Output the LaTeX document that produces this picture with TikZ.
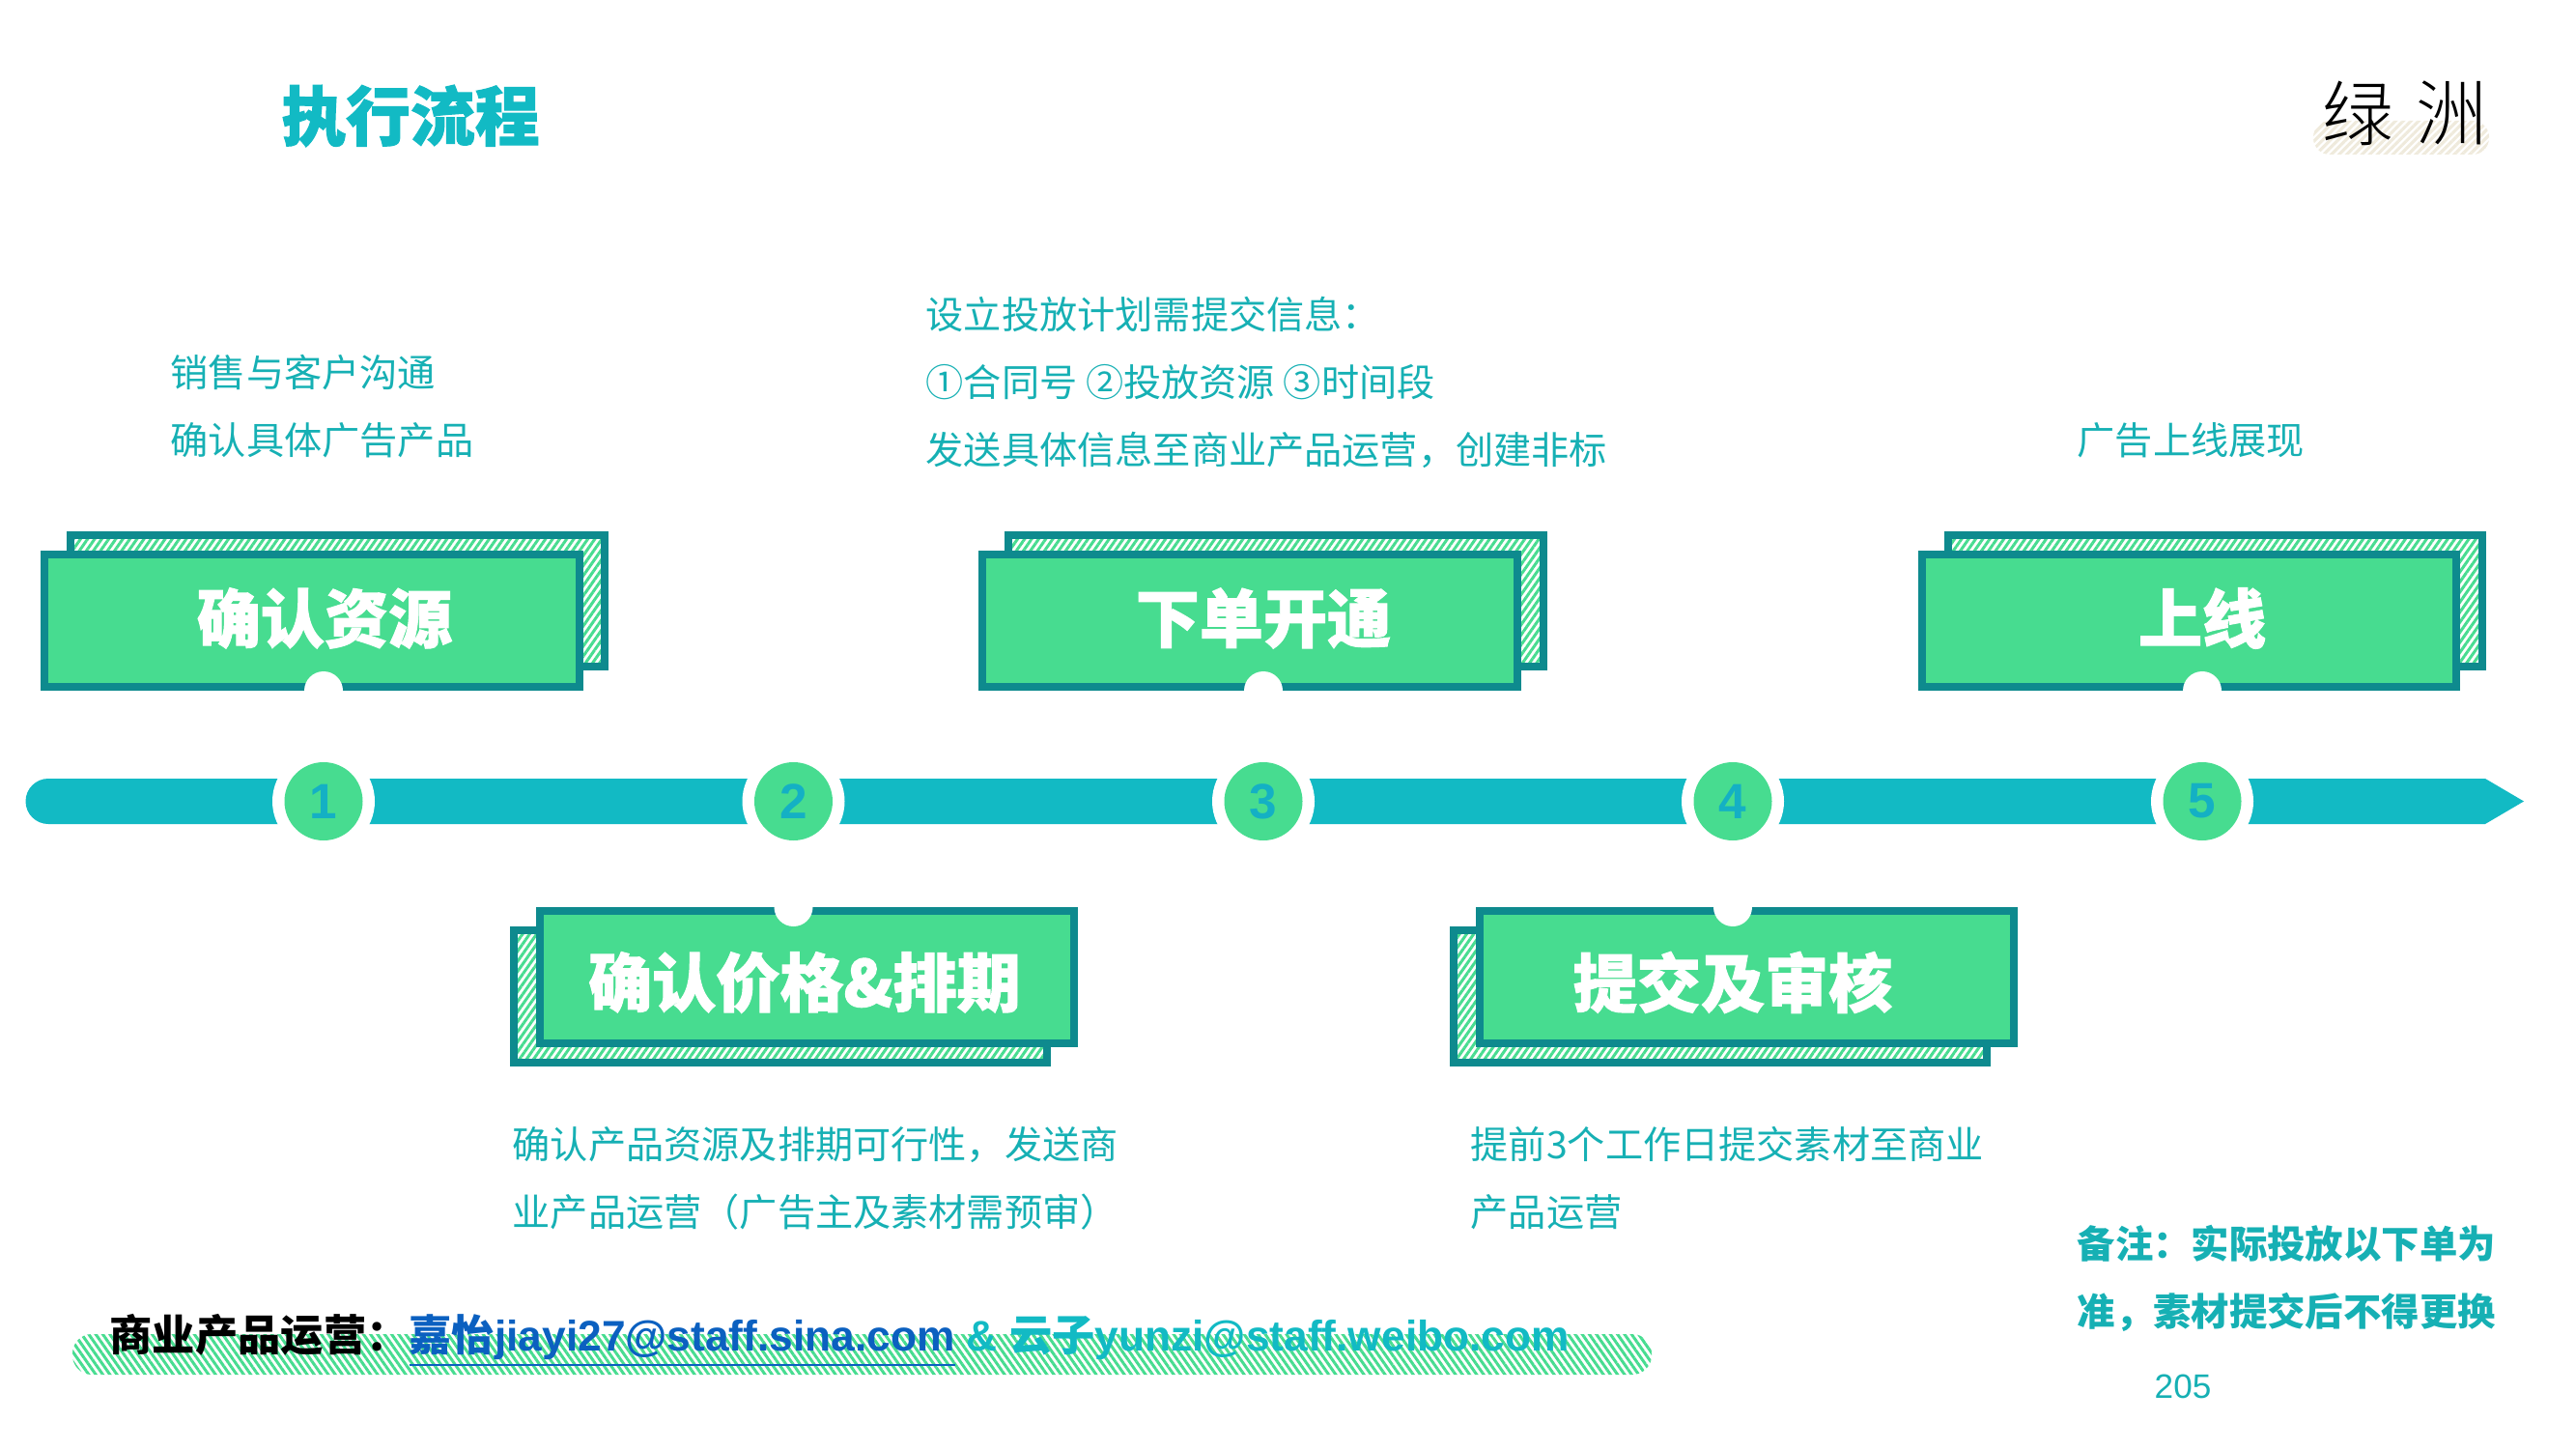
\documentclass[tikz,border=0pt]{standalone}
\usepackage{fontspec}
\usetikzlibrary{patterns.meta}
\setmainfont{Noto Sans CJK SC}
\newfontfamily\latinfont{Liberation Sans}
\newfontfamily\headfont[BoldFeatures={FakeBold=1.5}]{Noto Sans CJK SC}
\newfontfamily\logofont{Noto Sans CJK SC Light}
\definecolor{boxgreen}{HTML}{47DC90}
\definecolor{boxedge}{HTML}{0E8A8E}
\definecolor{barteal}{HTML}{12BAC4}
\definecolor{noteteal}{HTML}{16B0B4}
\definecolor{numteal}{HTML}{14B0C4}
\definecolor{linkblue}{HTML}{0B60C0}
\definecolor{logocream}{HTML}{EFEADC}
\tikzset{
  frontbox/.style={draw=boxedge,line width=0.08cm,fill=boxgreen},
  backbox/.style={draw=boxedge,line width=0.08cm,preaction={fill=white},
    pattern={Lines[angle=55,distance=1.7pt,line width=0.85pt]},pattern color=boxgreen},
  notch/.style={fill=white,draw=none,circle,minimum size=0.4cm,inner sep=0pt},
  ringdot/.style={fill=white,circle,minimum size=1.06cm,inner sep=0pt},
  numdot/.style={fill=boxgreen,circle,minimum size=0.81cm,inner sep=0pt,
    text=numteal,font=\latinfont\bfseries\fontsize{14.6}{16}\selectfont},
  boxlabel/.style={text=white,font=\headfont\bfseries\fontsize{18.8}{22}\selectfont,inner sep=0pt},
  notetext/.style={anchor=north west,align=left,inner sep=0pt,text=noteteal,
    font=\fontsize{11.15}{19.9}\selectfont},
}
\begin{document}
\begin{tikzpicture}
\useasboundingbox (0,0) rectangle (26.67,15);
%title
\node (title) [anchor=center,inner sep=0pt,text=barteal,font=\headfont\bfseries\fontsize{19}{22}\selectfont] at (4.25,13.80) {执行流程};
%logo
\fill[rounded corners=0.17cm,pattern={Lines[angle=45,distance=1.6pt,line width=0.9pt]},pattern color=logocream] (23.95,13.4) rectangle (25.77,13.75);
\node (logoa) [inner sep=0pt,font=\logofont\fontsize{21}{24}\selectfont] at (24.41,13.83) {绿};
\node (logob) [inner sep=0pt,font=\logofont\fontsize{21}{24}\selectfont] at (25.38,13.83) {洲};
%bar
\fill[barteal] (0.5,6.94) arc (90:270:0.235) -- (25.73,6.47) -- (26.13,6.705) -- (25.73,6.94) -- cycle;
%1
\draw[backbox] (0.73,9.46) rectangle (6.26,8.10);
\draw[frontbox] (0.46,9.26) rectangle (6.00,7.89);
\node (notcha) [notch] at (3.35,7.85) {};
\node (labela) [boxlabel] at (3.36,8.60) {确认资源};
\node (ringa) [ringdot] at (3.35,6.705) {};
\node (dota) [numdot] at (3.35,6.705) {1};
\node (texta) [notetext] at (1.76,11.33) {销售与客户沟通\\确认具体广告产品};
%2
\draw[backbox] (5.32,5.37) rectangle (10.84,4.0);
\draw[frontbox] (5.59,5.57) rectangle (11.12,4.20);
\node (notchb) [notch] at (8.215,5.61) {};
\node (labelb) [boxlabel] at (8.33,4.83) {确认价格\&排期};
\node (ringb) [ringdot] at (8.215,6.705) {};
\node (dotb) [numdot] at (8.215,6.705) {2};
\node (textb) [notetext] at (5.30,3.34) {确认产品资源及排期可行性，发送商\\业产品运营（广告主及素材需预审）};
%3
\draw[backbox] (10.44,9.46) rectangle (15.98,8.10);
\draw[frontbox] (10.17,9.26) rectangle (15.71,7.89);
\node (notchc) [notch] at (13.08,7.85) {};
\node (labelc) [boxlabel] at (13.08,8.60) {下单开通};
\node (ringc) [ringdot] at (13.08,6.705) {};
\node (dotc) [numdot] at (13.08,6.705) {3};
\node (textc) [notetext] at (9.58,11.935) {设立投放计划需提交信息：\\①合同号 ②投放资源 ③时间段\\发送具体信息至商业产品运营，创建非标};
%4
\draw[backbox] (15.05,5.37) rectangle (20.57,4.0);
\draw[frontbox] (15.32,5.57) rectangle (20.85,4.20);
\node (notchd) [notch] at (17.94,5.61) {};
\node (labeld) [boxlabel] at (17.94,4.83) {提交及审核};
\node (ringd) [ringdot] at (17.94,6.705) {};
\node (dotd) [numdot] at (17.94,6.705) {4};
\node (textd) [notetext] at (15.22,3.34) {提前3个工作日提交素材至商业\\产品运营};
%5
\draw[backbox] (20.17,9.46) rectangle (25.70,8.10);
\draw[frontbox] (19.90,9.26) rectangle (25.43,7.89);
\node (notche) [notch] at (22.80,7.85) {};
\node (labele) [boxlabel] at (22.80,8.60) {上线};
\node (ringe) [ringdot] at (22.80,6.705) {};
\node (dote) [numdot] at (22.80,6.705) {5};
\node (texte) [notetext] at (21.50,10.63) {广告上线展现};
%contact strip
\fill[rounded corners=0.2cm,pattern={Lines[angle=-55,distance=1.7pt,line width=0.85pt]},pattern color=boxgreen] (0.75,0.77) rectangle (17.10,1.19);
\node (contact) [anchor=west,inner sep=0pt,font=\bfseries\fontsize{12.6}{15}\selectfont] at (1.13,1.12)
  {商业产品运营：\textcolor{linkblue}{\underline{嘉怡{\latinfont jiayi27@staff.sina.com}}}\textcolor{barteal}{\latinfont\ \&\ }\textcolor{barteal}{云子{\latinfont yunzi@staff.weibo.com}}};
%note
\node (note) [notetext,font=\bfseries\fontsize{11.2}{19.9}\selectfont] at (21.50,2.32) {备注：实际投放以下单为\\准，素材提交后不得更换};
\node (page) [inner sep=0pt,text=noteteal,font=\latinfont\fontsize{10}{12}\selectfont] at (22.60,0.645) {205};
\end{tikzpicture}
\end{document}
